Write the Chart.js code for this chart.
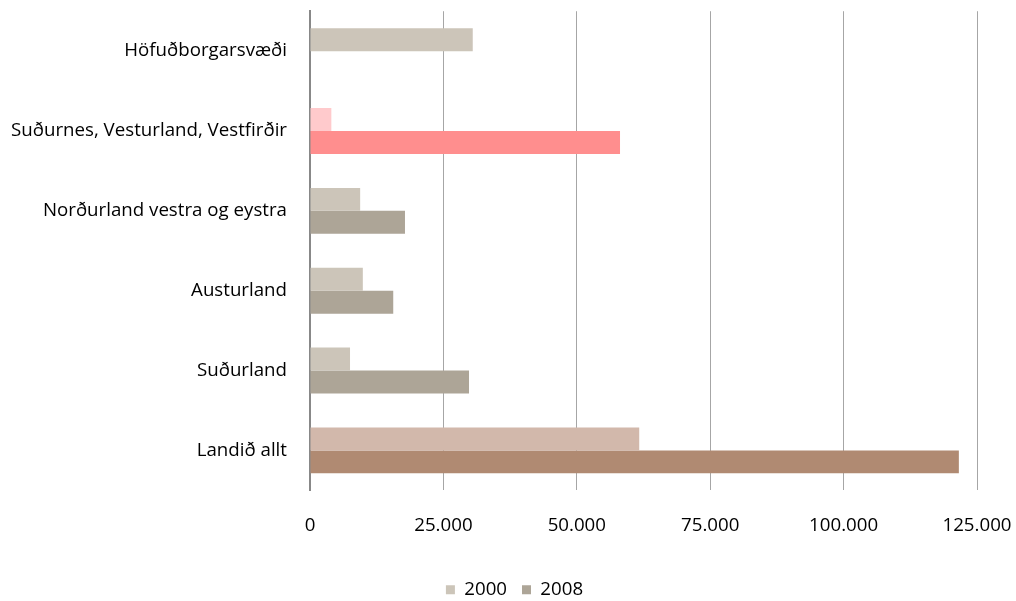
<!DOCTYPE html>
<html>
<head>
<meta charset="utf-8">
<script src="https://cdn.jsdelivr.net/npm/chart.js@4"></script>
<style>
  html, body { margin: 0; padding: 0; background: #fff; }
  #wrap { width: 1016px; height: 601px; }
</style>
</head>
<body>
<div id="wrap"><canvas id="barChart" width="1016" height="601"></canvas></div>
<script>
// Data
const regions = ['Höfuðborgarsvæði', 'Suðurnes, Vesturland, Vestfirðir', 'Norðurland vestra og eystra', 'Austurland', 'Suðurland', 'Landið allt'];
const values2000 = [30500, 4000, 9400, 9900, 7500, 61700];
const values2008 = [null, 58100, 17800, 15600, 29800, 121600];
const xTicks = [0, 25000, 50000, 75000, 100000, 125000];

// bar colours, some regions highlighted
const colors2000 = ['#CCC5B9', '#FFCACC', '#CCC5B9', '#CCC5B9', '#CCC5B9', '#D2B8AB'];
const colors2008 = ['#ADA597', '#FF8E8E', '#ADA597', '#ADA597', '#ADA597', '#B08A72'];
const legendColors = ['#CCC5B9', '#ADA597'];

const fontFamily = '"Open Sans", "Liberation Sans", sans-serif';
const fontSize = 18.7;

function fmt(v) {
  return String(v).replace(/\B(?=(\d{3})+(?!\d))/g, '.');
}

// legend sits centred on the whole page, not on the plot area
const legendShift = {
  id: 'legendShift',
  afterLayout(chart) {
    if (chart.legend) {
      chart.legend.left += 26;
      chart.legend.right += 26;
    }
  }
};

const ctx = document.getElementById('barChart').getContext('2d');
new Chart(ctx, {
  type: 'bar',
  data: {
    labels: regions,
    datasets: [
      { label: '2000', data: values2000, backgroundColor: colors2000 },
      { label: '2008', data: values2008, backgroundColor: colors2008 }
    ]
  },
  plugins: [legendShift],
  options: {
    indexAxis: 'y',
    responsive: false,
    animation: false,
    barPercentage: 1,
    categoryPercentage: 0.575,
    layout: { padding: { top: 11, right: 39, left: 0, bottom: -8 } },
    plugins: {
      tooltip: { enabled: false },
      legend: {
        position: 'bottom',
        labels: {
          color: '#000',
          font: { family: fontFamily, size: fontSize },
          boxWidth: 9,
          boxHeight: 9,
          padding: 15,
          generateLabels(chart) {
            const items = Chart.defaults.plugins.legend.labels.generateLabels(chart);
            items.forEach((it, i) => {
              it.fillStyle = legendColors[i];
              it.strokeStyle = legendColors[i];
              it.lineWidth = 0;
            });
            return items;
          }
        }
      }
    },
    scales: {
      x: {
        min: 0,
        max: 125000,
        afterBuildTicks(scale) {
          scale.ticks = xTicks.map(v => ({ value: v }));
        },
        grid: { color: '#A6A6A6', lineWidth: 1, drawTicks: true, tickLength: 24, tickColor: 'rgba(0,0,0,0)' },
        border: { display: false },
        ticks: {
          color: '#000',
          font: { family: fontFamily, size: fontSize },
          padding: 0,
          maxRotation: 0,
          callback: v => fmt(v)
        },
        afterFit(scale) { scale.height = 75; }
      },
      y: {
        grid: { display: false, drawTicks: true, tickLength: 23 },
        border: { display: true, color: '#888888', width: 2 },
        ticks: {
          color: '#000',
          font: { family: fontFamily, size: fontSize },
          padding: 0
        },
        afterFit(scale) { scale.width = 310; }
      }
    }
  }
});
</script>
</body>
</html>
